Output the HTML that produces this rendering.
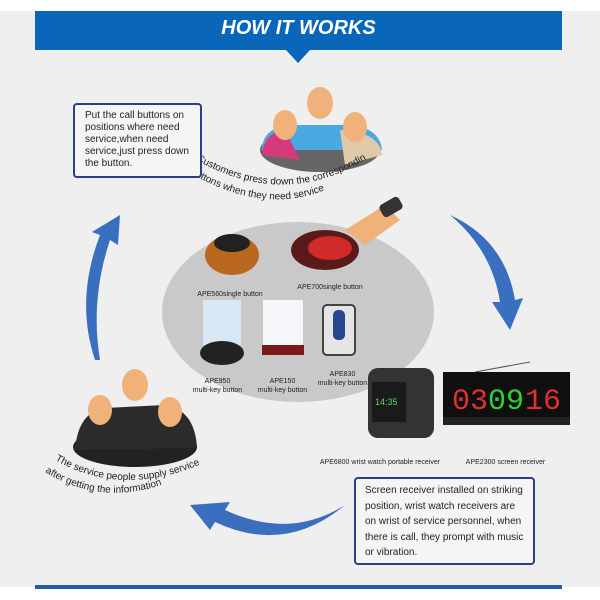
<!DOCTYPE html>
<html><head><meta charset="utf-8"><style>
body{margin:0;width:600px;height:600px;background:#fff;position:relative;overflow:hidden;font-family:"Liberation Sans",sans-serif}
.box{position:absolute;border:2px solid #2a3f8a;border-radius:4px;background:#f5f5f5;font-size:10px;color:#222;box-sizing:border-box}
.lbl{position:absolute;font-size:7px;color:#222;text-align:center;line-height:9px}
</style></head><body>
<div style="position:absolute;left:0;top:11px;width:600px;height:576px;background:#efefef"></div>
<div style="position:absolute;left:35px;top:11px;width:527px;height:39px;background:#0a66b8"></div>
<div style="position:absolute;left:286px;top:50px;width:0;height:0;border-left:12px solid transparent;border-right:12px solid transparent;border-top:13px solid #0a66b8"></div>
<div style="position:absolute;left:35px;top:17px;width:527px;text-align:center;color:#fff;font-weight:bold;font-style:italic;font-size:20px">HOW IT WORKS</div>
<div style="position:absolute;left:35px;top:585px;width:527px;height:4px;background:#1f5faa"></div>
<svg width="600" height="600" style="position:absolute;left:0;top:0">
<defs>
<path id="p1" d="M196 160 Q285 210 368 158"/>
<path id="p2" d="M190 173 Q275 222 345 180"/>
<path id="p3" d="M55 460 Q125 500 210 460"/>
<path id="p4" d="M45 472 Q110 512 185 475"/>
</defs>
<ellipse cx="298" cy="312" rx="136" ry="90" fill="#c9c9c9"/>
<ellipse cx="320" cy="150" rx="60" ry="22" fill="#666"/>
<path d="M262 150 Q262 128 290 125 L350 125 Q380 128 382 150 Z" fill="#49a9e0"/>
<path d="M262 155 Q264 132 285 130 L300 160 Z" fill="#d43a7c"/>
<path d="M340 130 Q380 132 382 155 L345 165 Z" fill="#e0c9a8"/>
<ellipse cx="320" cy="103" rx="13" ry="16" fill="#f0b27a"/>
<ellipse cx="285" cy="125" rx="12" ry="15" fill="#f0b27a"/>
<ellipse cx="355" cy="127" rx="12" ry="15" fill="#f0b27a"/>
<ellipse cx="135" cy="447" rx="62" ry="20" fill="#222"/>
<path d="M75 450 Q78 412 105 408 L165 405 Q195 410 197 448 Z" fill="#2b2b2b"/>
<ellipse cx="135" cy="385" rx="13" ry="16" fill="#f0b27a"/>
<ellipse cx="100" cy="410" rx="12" ry="15" fill="#f0b27a"/>
<ellipse cx="170" cy="412" rx="12" ry="15" fill="#f0b27a"/>
<text font-size="10" fill="#222" font-family="Liberation Sans"><textPath href="#p1">Customers press down the corresponding</textPath></text>
<text font-size="10" fill="#222" font-family="Liberation Sans"><textPath href="#p2">buttons when they need service</textPath></text>
<text font-size="10" fill="#222" font-family="Liberation Sans"><textPath href="#p3">The service people supply service</textPath></text>
<text font-size="10" fill="#222" font-family="Liberation Sans"><textPath href="#p4">after getting the information</textPath></text>
<path d="M95 360 Q75 300 100 235 L92 232 L120 215 L118 245 L110 240 Q90 300 100 360 Z" fill="#3a6fc0"/>
<path d="M450 215 Q505 240 515 300 L523 298 L510 330 L492 302 L500 302 Q492 250 450 215 Z" fill="#3a6fc0"/>
<path d="M345 505 Q290 540 225 510 L230 502 L190 505 L210 530 L215 522 Q285 555 345 505 Z" fill="#3a6fc0"/>
<ellipse cx="232" cy="255" rx="27" ry="20" fill="#b9661e"/>
<ellipse cx="232" cy="243" rx="18" ry="9" fill="#222"/>
<ellipse cx="325" cy="250" rx="34" ry="20" fill="#5a1a1a"/>
<ellipse cx="330" cy="248" rx="22" ry="12" fill="#d02a2a"/>
<path d="M345 230 L385 205 L400 220 L365 245 Z" fill="#f0b27a"/>
<rect x="380" y="200" width="22" height="14" rx="4" fill="#333" transform="rotate(-30 391 207)"/>
<rect x="203" y="300" width="38" height="45" fill="#d8e8f5"/>
<ellipse cx="222" cy="353" rx="22" ry="12" fill="#222"/>
<rect x="263" y="300" width="40" height="45" fill="#f5f7fa"/>
<rect x="262" y="345" width="42" height="10" fill="#7a1a1a"/>
<rect x="323" y="305" width="32" height="50" rx="4" fill="#e5e5e5" stroke="#444" stroke-width="2"/>
<rect x="333" y="310" width="12" height="30" rx="5" fill="#24478f"/>
<rect x="368" y="368" width="66" height="70" rx="10" fill="#333"/>
<rect x="372" y="382" width="34" height="40" fill="#1a1a1a"/>
<text x="375" y="405" font-size="9" fill="#5fd65f" font-family="Liberation Sans">14:35</text>
<rect x="443" y="372" width="127" height="45" fill="#0f0f0f"/>
<rect x="443" y="417" width="127" height="8" fill="#222"/>
<line x1="475" y1="372" x2="530" y2="362" stroke="#555"/>
<text x="452" y="409" font-size="30" fill="#e03030" font-family="Liberation Mono">03</text>
<text x="488" y="409" font-size="30" fill="#30d030" font-family="Liberation Mono">09</text>
<text x="525" y="409" font-size="30" fill="#e03030" font-family="Liberation Mono">16</text>
</svg>
<div class="lbl" style="left:195px;top:290px;width:70px">APE560single button</div>
<div class="lbl" style="left:295px;top:283px;width:70px">APE700single button</div>
<div class="lbl" style="left:190px;top:377px;width:55px">APE950<br>multi-key button</div>
<div class="lbl" style="left:255px;top:377px;width:55px">APE150<br>multi-key button</div>
<div class="lbl" style="left:315px;top:370px;width:55px">APE830<br>multi-key button</div>
<div class="lbl" style="left:310px;top:458px;width:140px">APE6800 wrist watch portable receiver</div>
<div class="lbl" style="left:458px;top:458px;width:95px">APE2300 screen receiver</div>
<div class="box" style="left:73px;top:103px;width:129px;height:75px;padding:5px 10px;line-height:12px">Put the call buttons on positions where need service,when need service,just press down the button.</div>
<div class="box" style="left:354px;top:477px;width:181px;height:88px;padding:4px 9px;line-height:15.5px">Screen receiver installed on striking position, wrist watch receivers are on wrist of service personnel, when there is call, they prompt with music or vibration.</div>
</body></html>
